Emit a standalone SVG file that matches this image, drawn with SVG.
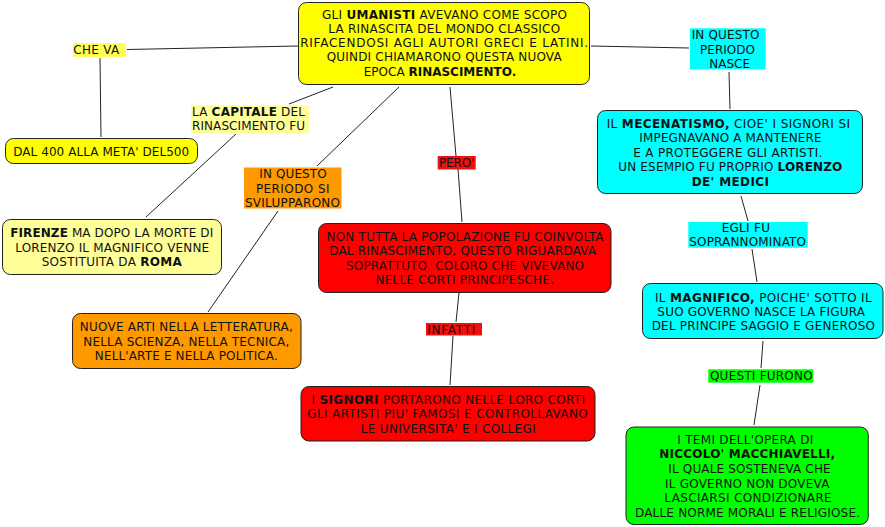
<svg xmlns="http://www.w3.org/2000/svg" width="885" height="527" viewBox="0 0 885 527">
<style>
.n{stroke:#222;stroke-width:1}
.t{font-family:"DejaVu Sans",Verdana,sans-serif;font-size:12px;text-anchor:middle;fill:#111}
.b{font-weight:bold}
.c{stroke:#222;stroke-width:1;fill:none}
.y{fill:#ffff00}.py{fill:#ffff99}.o{fill:#ff9900}.r{fill:#ff0000}.cy{fill:#00ffff}.g{fill:#00ff00}
</style>
<rect width="885" height="527" fill="#fff"/>
<g id="connectors">
<line class="c" x1="298" y1="46" x2="127" y2="49.5"/>
<line class="c" x1="100" y1="58" x2="101" y2="137"/>
<line class="c" x1="333" y1="87" x2="289" y2="104"/>
<line class="c" x1="236" y1="134" x2="146" y2="217"/>
<line class="c" x1="399" y1="87" x2="317" y2="166"/>
<line class="c" x1="278" y1="211" x2="208" y2="312"/>
<line class="c" x1="450" y1="87" x2="456" y2="156"/>
<line class="c" x1="458" y1="169" x2="462" y2="222"/>
<line class="c" x1="459" y1="293" x2="456" y2="322"/>
<line class="c" x1="453" y1="336" x2="450" y2="385"/>
<line class="c" x1="591" y1="46" x2="689" y2="48"/>
<line class="c" x1="729" y1="72" x2="730" y2="109"/>
<line class="c" x1="741" y1="196" x2="748" y2="221"/>
<line class="c" x1="752" y1="249" x2="757" y2="282"/>
<line class="c" x1="763" y1="341" x2="761" y2="368"/>
<line class="c" x1="760" y1="385" x2="754" y2="425"/>
</g>
<g id="main">
<rect class="n y" x="298.5" y="2.5" width="291" height="82" rx="8"/>
<text class="t" x="444.5" y="18.7" textLength="245" lengthAdjust="spacing">GLI <tspan class="b">UMANISTI</tspan> AVEVANO COME SCOPO</text>
<text class="t" x="444.2" y="32.9" textLength="232" lengthAdjust="spacing">LA RINASCITA DEL MONDO CLASSICO</text>
<text class="t" x="444.2" y="47.1" textLength="288" lengthAdjust="spacing">RIFACENDOSI AGLI AUTORI GRECI E LATINI.</text>
<text class="t" x="444.2" y="61.3" textLength="235" lengthAdjust="spacing">QUINDI CHIAMARONO QUESTA NUOVA</text>
<text class="t" x="440" y="75.5">EPOCA <tspan class="b">RINASCIMENTO.</tspan></text>
</g>
<g id="lbl-che-va">
<rect x="73" y="43" width="53" height="14" fill="#ffff55"/>
<text class="t" x="96.2" y="54" textLength="46" lengthAdjust="spacing">CHE VA</text>
</g>
<g id="dal">
<rect class="n y" x="5.5" y="138.5" width="192" height="25" rx="8"/>
<text class="t" x="101.2" y="155.5" textLength="176" lengthAdjust="spacing">DAL 400 ALLA META' DEL500</text>
</g>
<g id="lbl-capitale">
<rect class="py" x="191" y="105" width="118" height="28"/>
<text class="t" x="248.5" y="115.5" textLength="113" lengthAdjust="spacing">LA <tspan class="b">CAPITALE</tspan> DEL</text>
<text class="t" x="248.5" y="130" textLength="113" lengthAdjust="spacing">RINASCIMENTO FU</text>
</g>
<g id="firenze">
<rect class="n py" x="2.5" y="219.5" width="219" height="55" rx="8"/>
<text class="t" x="111.7" y="236.7" textLength="203" lengthAdjust="spacing"><tspan class="b">FIRENZE</tspan> MA DOPO LA MORTE DI</text>
<text class="t" x="112.2" y="251.7" textLength="194" lengthAdjust="spacing">LORENZO IL MAGNIFICO VENNE</text>
<text class="t" x="111.7" y="266" textLength="140" lengthAdjust="spacing">SOSTITUITA DA <tspan class="b">ROMA</tspan></text>
</g>
<g id="lbl-sviluppo">
<rect class="o" x="244" y="167.5" width="97.5" height="41"/>
<text class="t" x="293" y="178.4" textLength="67.5" lengthAdjust="spacing">IN QUESTO</text>
<text class="t" x="292.7" y="192.7" textLength="73.5" lengthAdjust="spacing">PERIODO SI</text>
<text class="t" x="292.5" y="207" textLength="95" lengthAdjust="spacing">SVILUPPARONO</text>
</g>
<g id="nuove">
<rect class="n o" x="72.5" y="313.5" width="228.5" height="55" rx="8"/>
<text class="t" x="186.3" y="331" textLength="213" lengthAdjust="spacing">NUOVE ARTI NELLA LETTERATURA,</text>
<text class="t" x="186.3" y="346" textLength="206" lengthAdjust="spacing">NELLA SCIENZA, NELLA TECNICA,</text>
<text class="t" x="186.3" y="360" textLength="183" lengthAdjust="spacing">NELL'ARTE E NELLA POLITICA.</text>
</g>
<g id="lbl-pero">
<rect x="437.7" y="156" width="38" height="13.5" fill="#f01010"/>
<text class="t" x="456.7" y="167" textLength="35.5" lengthAdjust="spacing">PERO'</text>
</g>
<g id="non-tutta">
<rect class="n r" x="318.5" y="223.5" width="292.5" height="69" rx="8"/>
<text class="t" x="465" y="241" textLength="277" lengthAdjust="spacing">NON TUTTA LA POPOLAZIONE FU COINVOLTA</text>
<text class="t" x="462.7" y="255" textLength="267" lengthAdjust="spacing">DAL RINASCIMENTO, QUESTO RIGUARDAVA</text>
<text class="t" x="465" y="270" textLength="238" lengthAdjust="spacing" style="white-space:pre">SOPRATTUTO  COLORO CHE VIVEVANO</text>
<text class="t" x="464.8" y="283.7" textLength="178.5" lengthAdjust="spacing">NELLE CORTI PRINCIPESCHE.</text>
</g>
<g id="lbl-infatti">
<rect x="426" y="323" width="56" height="12.5" fill="#f01010"/>
<text class="t" x="451.2" y="333.7" textLength="48" lengthAdjust="spacing">INFATTI</text>
</g>
<g id="signori">
<rect class="n r" x="301" y="386.5" width="294" height="54.5" rx="8"/>
<text class="t" x="448.3" y="403.7" textLength="273.5" lengthAdjust="spacing">I <tspan class="b">SIGNORI</tspan> PORTARONO NELLE LORO CORTI</text>
<text class="t" x="447.5" y="418.4" textLength="280.5" lengthAdjust="spacing">GLI ARTISTI PIU' FAMOSI E CONTROLLAVANO</text>
<text class="t" x="448.2" y="432.7" textLength="175" lengthAdjust="spacing">LE UNIVERSITA' E I COLLEGI</text>
</g>
<g id="lbl-nasce">
<rect class="cy" x="690" y="28.3" width="75.7" height="41"/>
<text class="t" x="725.5" y="38.7" textLength="67.7" lengthAdjust="spacing">IN QUESTO</text>
<text class="t" x="727.5" y="53.7" textLength="55" lengthAdjust="spacing">PERIODO</text>
<text class="t" x="729.7" y="67.7" textLength="40.7" lengthAdjust="spacing">NASCE</text>
</g>
<g id="mecenatismo">
<rect class="n cy" x="597.5" y="110.5" width="265" height="83" rx="8"/>
<text class="t" x="728.3" y="127.7" textLength="243.3" lengthAdjust="spacing">IL <tspan class="b">MECENATISMO,</tspan> CIOE' I SIGNORI SI</text>
<text class="t" x="730.5" y="141.7" textLength="182.3" lengthAdjust="spacing">IMPEGNAVANO A MANTENERE</text>
<text class="t" x="727.8" y="156.7" textLength="189" lengthAdjust="spacing">E A PROTEGGERE GLI ARTISTI.</text>
<text class="t" x="730.3" y="171" textLength="224" lengthAdjust="spacing">UN ESEMPIO FU PROPRIO <tspan class="b">LORENZO</tspan></text>
<text class="t b" x="730.3" y="186" textLength="77.3" lengthAdjust="spacing">DE' MEDICI</text>
</g>
<g id="lbl-egli">
<rect class="cy" x="688.3" y="222" width="119.4" height="25.7"/>
<text class="t" x="745.8" y="231.7" textLength="48.3" lengthAdjust="spacing">EGLI FU</text>
<text class="t" x="747.7" y="246" textLength="116.7" lengthAdjust="spacing">SOPRANNOMINATO</text>
</g>
<g id="magnifico">
<rect class="n cy" x="642.5" y="283.5" width="240.5" height="55" rx="8"/>
<text class="t" x="763.3" y="301.7" textLength="216.7" lengthAdjust="spacing">IL <tspan class="b">MAGNIFICO,</tspan> POICHE' SOTTO IL</text>
<text class="t" x="761.2" y="316" textLength="207.7" lengthAdjust="spacing">SUO GOVERNO NASCE LA FIGURA</text>
<text class="t" x="763.3" y="330.4" textLength="223.3" lengthAdjust="spacing">DEL PRINCIPE SAGGIO E GENEROSO</text>
</g>
<g id="lbl-questi">
<rect class="g" x="708.3" y="369.3" width="105" height="13.4"/>
<text class="t" x="761.3" y="380.1" textLength="102.7" lengthAdjust="spacing">QUESTI FURONO</text>
</g>
<g id="niccolo">
<rect class="n g" x="626" y="427" width="242.3" height="97.5" rx="8"/>
<text class="t" x="745.3" y="443.7" textLength="136" lengthAdjust="spacing">I TEMI DELL'OPERA DI</text>
<text class="t b" x="747.2" y="458.4" textLength="175.7" lengthAdjust="spacing">NICCOLO' MACCHIAVELLI,</text>
<text class="t" x="749.5" y="472.7" textLength="162.3" lengthAdjust="spacing">IL QUALE SOSTENEVA CHE</text>
<text class="t" x="747.2" y="487.7" textLength="164.3" lengthAdjust="spacing">IL GOVERNO NON DOVEVA</text>
<text class="t" x="748" y="501.7" textLength="167.3" lengthAdjust="spacing">LASCIARSI CONDIZIONARE</text>
<text class="t" x="747.5" y="517" textLength="225" lengthAdjust="spacing">DALLE NORME MORALI E RELIGIOSE.</text>
</g>
</svg>
